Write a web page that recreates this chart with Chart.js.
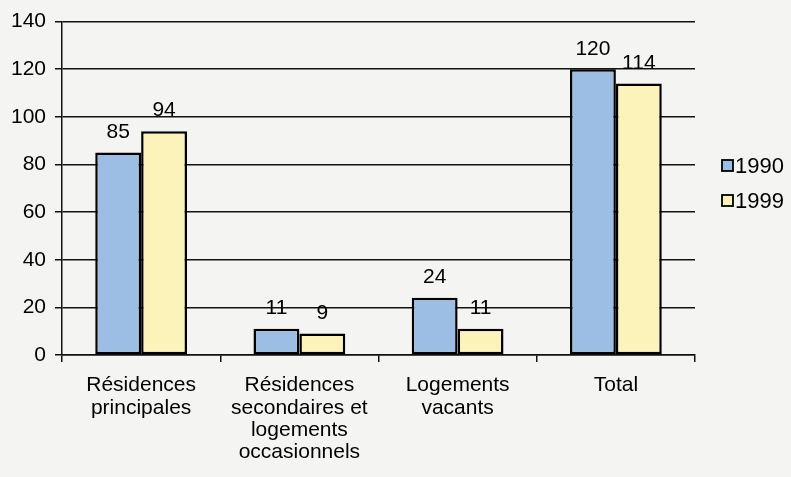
<!DOCTYPE html>
<html>
<head>
<meta charset="utf-8">
<script src="https://cdn.jsdelivr.net/npm/chart.js@4/dist/chart.umd.min.js"></script>
<style>
  body { margin: 0; background: #f4f4f2; }
  canvas { display: block; }
</style>
</head>
<body>
<canvas id="myChart" width="791" height="477"></canvas>
<script>
// categories (one array per label, one entry per line)
var categories = [
  ['Résidences', 'principales'],
  ['Résidences', 'secondaires et', 'logements', 'occasionnels'],
  ['Logements', 'vacants'],
  ['Total']
];
var years = ['1990', '1999'];
var values1990 = [85, 11, 24, 120];
var values1999 = [94, 9, 11, 114];
var yTicks = [0, 20, 40, 60, 80, 100, 120, 140];

var FONT = '"Liberation Sans", Arial, sans-serif';

// number above each bar
var valueLabels = {
  id: 'valueLabels',
  afterDatasetsDraw: function(chart) {
    var ctx = chart.ctx;
    ctx.save();
    ctx.font = '21px ' + FONT;
    ctx.fillStyle = '#000';
    ctx.textAlign = 'center';
    ctx.textBaseline = 'bottom';
    chart.data.datasets.forEach(function(ds, i) {
      chart.getDatasetMeta(i).data.forEach(function(bar, j) {
        ctx.fillText(ds.data[j], bar.x, bar.y - 10);
      });
    });
    ctx.restore();
  }
};

// small legend on the right, boxes + years
var sideLegend = {
  id: 'sideLegend',
  afterDraw: function(chart) {
    var ctx = chart.ctx;
    var x = chart.chartArea.right + 27;
    ctx.save();
    ctx.font = '22px ' + FONT;
    ctx.textBaseline = 'middle';
    chart.data.datasets.forEach(function(ds, i) {
      var y = 166 + i * 35;
      ctx.fillStyle = ds.backgroundColor;
      ctx.fillRect(x, y - 6, 11, 11);
      ctx.strokeStyle = '#000';
      ctx.lineWidth = 1.8;
      ctx.strokeRect(x, y - 6, 11, 11);
      ctx.fillStyle = '#000';
      ctx.fillText(ds.label, x + 13, y + 1);
    });
    ctx.restore();
  }
};

var myChart = document.getElementById('myChart').getContext('2d');

var barChart = new Chart(myChart, {
  type: 'bar',
  data: {
    labels: categories,
    datasets: [{
      label: years[0],
      data: values1990,
      backgroundColor: '#9dbee4',
      borderColor: '#000',
      borderWidth: 2.5,
      borderSkipped: false
    }, {
      label: years[1],
      data: values1999,
      backgroundColor: '#fbf3b9',
      borderColor: '#000',
      borderWidth: 2.5,
      borderSkipped: false
    }]
  },
  options: {
    responsive: false,
    animation: false,
    events: [],
    categoryPercentage: 0.58,
    barPercentage: 1,
    layout: {
      padding: { left: 0, right: 96, top: 11, bottom: 0 }
    },
    plugins: {
      legend: { display: false },
      tooltip: { enabled: false }
    },
    scales: {
      x: {
        afterFit: function(scale) { scale.height = 122; },
        grid: {
          offset: true,
          drawOnChartArea: false,
          drawTicks: true,
          tickLength: 7,
          color: '#111',
          lineWidth: 1.5
        },
        border: { color: '#111', width: 1.5 },
        ticks: {
          color: '#000',
          padding: 12,
          maxRotation: 0,
          autoSkip: false,
          font: { family: FONT, size: 21, lineHeight: 1.07 }
        }
      },
      y: {
        min: yTicks[0],
        max: yTicks[yTicks.length - 1],
        afterFit: function(scale) { scale.width = 62; },
        grid: {
          color: '#111',
          lineWidth: 1.5,
          tickLength: 7
        },
        border: { color: '#111', width: 1.5 },
        ticks: {
          stepSize: yTicks[1] - yTicks[0],
          color: '#000',
          padding: 9,
          font: { family: FONT, size: 21 }
        }
      }
    }
  },
  plugins: [valueLabels, sideLegend]
});
</script>
</body>
</html>
